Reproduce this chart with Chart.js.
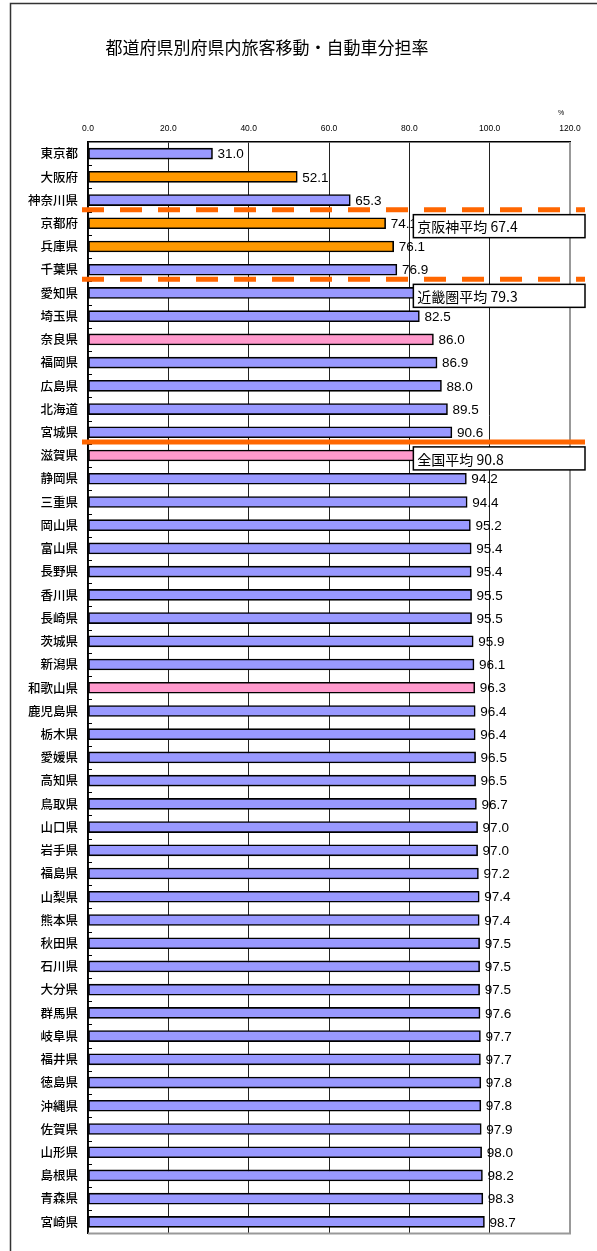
<!DOCTYPE html>
<html>
<head>
<meta charset="utf-8">
<script src="https://cdn.jsdelivr.net/npm/chart.js@4/dist/chart.umd.min.js"></script>
<style>
body{margin:0;background:#fff}
canvas{display:block}
</style>
</head>
<body>
<canvas id="shareChart" width="597" height="1251"></canvas>
<script>
// 都道府県別 府県内旅客移動 自動車分担率 (%)
const prefectures = ['東京都','大阪府','神奈川県','京都府','兵庫県','千葉県','愛知県','埼玉県','奈良県','福岡県',
    '広島県','北海道','宮城県','滋賀県','静岡県','三重県','岡山県','富山県','長野県','香川県',
    '長崎県','茨城県','新潟県','和歌山県','鹿児島県','栃木県','愛媛県','高知県','鳥取県','山口県',
    '岩手県','福島県','山梨県','熊本県','秋田県','石川県','大分県','群馬県','岐阜県','福井県',
    '徳島県','沖縄県','佐賀県','山形県','島根県','青森県','宮崎県'];
const shares = [31.0,52.1,65.3,74.1,76.1,76.9,81.5,82.5,86.0,86.9,
    88.0,89.5,90.6,92.0,94.2,94.4,95.2,95.4,95.4,95.5,
    95.5,95.9,96.1,96.3,96.4,96.4,96.5,96.5,96.7,97.0,
    97.0,97.2,97.4,97.4,97.5,97.5,97.5,97.6,97.7,97.7,
    97.8,97.8,97.9,98.0,98.2,98.3,98.7];
const keihanshin = ['大阪府','京都府','兵庫県'];
const kinkiOther = ['滋賀県','奈良県','和歌山県'];
const avgNames = ['京阪神平均','近畿圏平均','全国平均'];
const avgValues = [67.4,79.3,90.8];
const avgDashed = [true,true,false];
const xTicks = [0,20,40,60,80,100,120];

const barColors = prefectures.map(p => {
    if (keihanshin.includes(p)) return '#FF9900';
    if (kinkiOther.includes(p)) return '#FF99CC';
    return '#9999FF';
});

const jpFont = '"Noto Sans CJK JP", "Noto Sans", sans-serif';
const numFont = '"Liberation Sans", Arial, sans-serif';

const decorPlugin = {
    id: 'decor',
    beforeDraw(chart){
        const c = chart.ctx;
        c.save();
        c.fillStyle = '#fff';
        c.fillRect(0,0,chart.width,chart.height);
        c.strokeStyle = '#333';
        c.lineWidth = 1.5;
        c.strokeRect(10.5,3.5,800,1400);
        c.restore();
    },
    beforeDatasetsDraw(chart){
        const c = chart.ctx, a = chart.chartArea;
        c.save();
        c.strokeStyle = '#999';
        c.lineWidth = 2;
        c.beginPath();
        c.moveTo(a.right, a.top);
        c.lineTo(a.right, a.bottom);
        c.lineTo(a.left, a.bottom);
        c.stroke();
        // small inside ticks on category axis
        const y = chart.scales.y;
        c.strokeStyle = '#000';
        c.lineWidth = 1;
        for (let i = 1; i < prefectures.length; i++){
            const yy = Math.round((y.getPixelForValue(i-1) + y.getPixelForValue(i)) / 2) + 0.5;
            c.beginPath();
            c.moveTo(a.left, yy);
            c.lineTo(a.left + 4, yy);
            c.stroke();
        }
        c.restore();
    },
    afterDatasetsDraw(chart){
        const c = chart.ctx, a = chart.chartArea;
        const xs = chart.scales.x, ys = chart.scales.y;
        const meta = chart.getDatasetMeta(0);
        c.save();
        // value labels
        c.fillStyle = '#000';
        c.font = '13.5px ' + numFont;
        c.textAlign = 'left';
        c.textBaseline = 'middle';
        meta.data.forEach((bar, i) => {
            c.fillText(shares[i].toFixed(1), bar.x + 5, bar.y + 1);
        });
        // average lines and boxes
        avgValues.forEach((v, k) => {
            const idx = shares.findIndex(s => s > v);
            const ly = (ys.getPixelForValue(idx-1) + ys.getPixelForValue(idx)) / 2 - 2;
            c.strokeStyle = '#FF6600';
            c.lineWidth = 5;
            c.setLineDash(avgDashed[k] ? [22,16] : []);
            c.beginPath();
            c.moveTo(a.left - 6, ly);
            c.lineTo(a.right + 15, ly);
            c.stroke();
            c.setLineDash([]);
            const bx = xs.getPixelForValue(81), bw = a.right + 15 - bx;
            const by = ly + 5, bh = 23;
            c.fillStyle = '#fff';
            c.fillRect(bx, by, bw, bh);
            c.strokeStyle = '#000';
            c.lineWidth = 1.5;
            c.strokeRect(bx, by, bw, bh);
            c.fillStyle = '#000';
            c.font = '14px ' + jpFont;
            c.fillText(avgNames[k] + ' ' + v.toFixed(1), bx + 4, by + bh / 2 + 1);
        });
        c.restore();
    },
    afterDraw(chart){
        const c = chart.ctx, a = chart.chartArea;
        c.save();
        c.fillStyle = '#000';
        c.font = '17px ' + jpFont;
        c.textAlign = 'center';
        c.textBaseline = 'middle';
        c.fillText('都道府県別府県内旅客移動・自動車分担率', 267, 48);
        c.font = '7px ' + numFont;
        c.fillText('%', a.right - 9, 113);
        c.restore();
    }
};

const chart = new Chart(document.getElementById('shareChart').getContext('2d'), {
    type: 'bar',
    data: {
        labels: prefectures,
        datasets: [{
            data: shares,
            backgroundColor: barColors,
            borderColor: '#000',
            borderWidth: 1.6,
            borderSkipped: false,
            barThickness: 11
        }]
    },
    options: {
        indexAxis: 'y',
        responsive: false,
        animation: false,
        layout: { padding: { left: 0, right: 27, top: 0, bottom: 9 } },
        plugins: {
            legend: { display: false },
            tooltip: { enabled: false }
        },
        scales: {
            x: {
                position: 'top',
                min: 0,
                max: 120,
                afterFit: s => { s.height = 142; },
                afterBuildTicks: s => { s.ticks = xTicks.map(v => ({ value: v })); },
                grid: { color: '#222', lineWidth: 1, drawTicks: false },
                border: { color: '#000', width: 1.5 },
                ticks: {
                    padding: 8,
                    color: '#000',
                    font: { family: numFont, size: 8.5 },
                    callback: v => Number(v).toFixed(1)
                }
            },
            y: {
                afterFit: s => { s.width = 88; },
                grid: { display: false, drawTicks: false },
                border: { color: '#000', width: 1.5 },
                ticks: {
                    padding: 10,
                    color: '#000',
                    font: { family: jpFont, size: 12.5, weight: '500' },
                    autoSkip: false
                }
            }
        }
    },
    plugins: [decorPlugin]
});
</script>
</body>
</html>
